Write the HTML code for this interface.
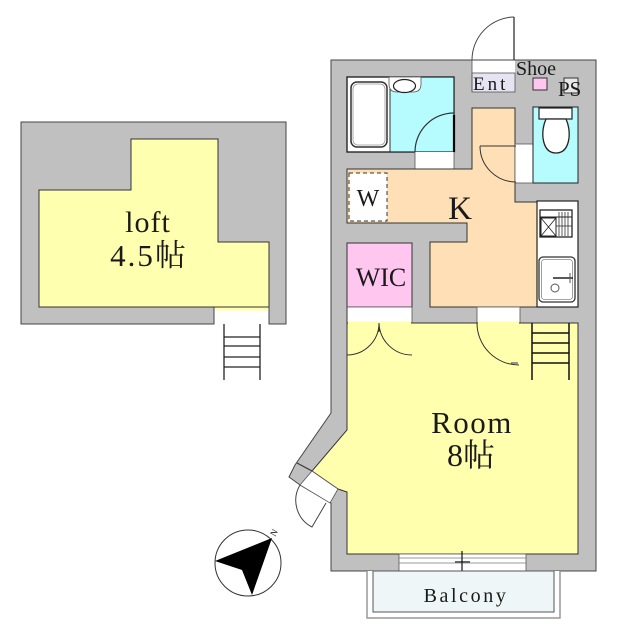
<!DOCTYPE html>
<html><head><meta charset="utf-8">
<style>
html,body{margin:0;padding:0;background:#fff;}
svg{display:block;}
text{font-family:"Liberation Serif","Noto Serif CJK SC","Noto Sans CJK JP",serif;fill:#1a1a1a;}
</style></head>
<body>
<svg width="618" height="640" viewBox="0 0 618 640" xmlns="http://www.w3.org/2000/svg">
<!-- LOFT -->
<rect x="21" y="122" width="265" height="202" fill="#c0c0c0" stroke="#444" stroke-width="1"/>
<rect x="214.5" y="307" width="54" height="19" fill="#fff"/>
<line x1="214" y1="307" x2="214" y2="324" stroke="#444"/>
<line x1="269" y1="307" x2="269" y2="324" stroke="#444"/>
<polygon points="131,139 218,139 218,242 269,242 269,307 39,307 39,190 131,190" fill="#ffffb0" stroke="#333" stroke-width="1"/>
<rect x="215" y="307.5" width="53" height="3" fill="#ffffb0"/>
<g stroke="#222" stroke-width="1.3">
<line x1="224" y1="324" x2="224" y2="380"/>
<line x1="260" y1="324" x2="260" y2="380"/>
<line x1="224" y1="337" x2="260" y2="337"/>
<line x1="224" y1="346" x2="260" y2="346"/>
<line x1="224" y1="357" x2="260" y2="357"/>
<line x1="224" y1="367" x2="260" y2="367"/>
</g>
<text x="148" y="232" font-size="30" text-anchor="middle" letter-spacing="1">loft</text>
<text x="149" y="266" font-size="31" text-anchor="middle" letter-spacing="2">4.5帖</text>

<!-- MAIN BUILDING -->
<polygon points="331,60 596,60 596,571 331,571 331,503 300,485 289,477 295,465 331,413" fill="#c0c0c0" stroke="#444" stroke-width="1"/>
<!-- entrance door -->
<rect x="472" y="60.5" width="43" height="13" fill="#fff"/>
<rect x="472" y="73" width="43" height="19" fill="#e6e4f2" stroke="#555" stroke-width="0.8"/>
<line x1="514" y1="17" x2="514" y2="60" stroke="#222" stroke-width="1.2"/>
<path d="M472 60 A43 43 0 0 1 514 17" fill="none" stroke="#444" stroke-width="1"/>
<line x1="472" y1="60" x2="472" y2="92" stroke="#555" stroke-width="0.8"/>
<text x="473" y="90" font-size="19" letter-spacing="3">Ent</text>
<text x="516" y="75" font-size="20">Shoe</text>
<rect x="533" y="78" width="14" height="12" fill="#ffc6ef" stroke="#333" stroke-width="1"/>
<rect x="564" y="78" width="14" height="15" fill="#e8e8e8" stroke="#333" stroke-width="1"/>
<text x="558" y="96" font-size="21">PS</text>

<!-- bathroom -->
<rect x="347" y="77" width="107" height="75" fill="#fff" stroke="#222" stroke-width="1.2"/>
<rect x="390" y="77" width="64" height="75" fill="#b6fcff"/>
<line x1="390" y1="77" x2="390" y2="152" stroke="#333" stroke-width="1"/>
<rect x="347" y="77" width="107" height="75" fill="none" stroke="#222" stroke-width="1.2"/>
<rect x="351" y="82" width="36" height="65" rx="6" fill="#fff" stroke="#333" stroke-width="1.5"/>
<rect x="353" y="84" width="32" height="61" rx="5" fill="none" stroke="#999" stroke-width="0.8"/>
<path d="M389 77 L389 84 Q389 92 397 92 L413 92 Q421 92 421 84 L421 77 Z" fill="#fff" stroke="#555" stroke-width="0.8"/>
<ellipse cx="404.5" cy="86" rx="11" ry="6.5" fill="#fff" stroke="#222" stroke-width="1.2"/>
<rect x="415" y="152" width="39" height="17" fill="#fff"/>
<line x1="415" y1="152" x2="415" y2="169" stroke="#555" stroke-width="0.8"/>
<line x1="454" y1="152" x2="454" y2="169" stroke="#555" stroke-width="0.8"/>
<path d="M415 152 A39 39 0 0 1 454 113" fill="none" stroke="#333" stroke-width="1.2"/>
<line x1="454" y1="115" x2="454" y2="152" stroke="#000" stroke-width="2.2"/>

<!-- kitchen -->
<polygon points="472,108 515,108 515,202 537,202 537,307 430,307 430,242 467,242 467,223 347,223 347,169 472,169" fill="#ffe0b6" stroke="#333" stroke-width="1"/>
<rect x="349" y="173" width="38" height="48" fill="#fff" stroke="#333" stroke-width="1" stroke-dasharray="4,3"/>
<text x="368" y="206" font-size="24" text-anchor="middle" fill="#444">W</text>
<text x="460" y="219" font-size="33" text-anchor="middle">K</text>
<!-- toilet door -->
<rect x="515" y="144" width="18" height="39" fill="#fff" stroke="#555" stroke-width="0.8"/>
<line x1="480" y1="146" x2="516" y2="146" stroke="#333" stroke-width="1"/>
<path d="M480 146 A36 36 0 0 0 516 182" fill="none" stroke="#333" stroke-width="1"/>
<!-- toilet -->
<rect x="533" y="107" width="45" height="76" fill="#b6fcff" stroke="#222" stroke-width="1"/>
<rect x="539" y="108" width="33" height="11" fill="#fff" stroke="#222" stroke-width="1.2"/>
<path d="M546 119 Q542 128 543 138 Q545 153 556 153 Q567 153 569 138 Q570 128 566 119 Z" fill="#fff" stroke="#222" stroke-width="1.3"/>
<!-- counter -->
<rect x="537" y="201" width="41" height="106" fill="#fff" stroke="#222" stroke-width="1.2"/>
<rect x="540" y="210" width="32" height="27" fill="#fff" stroke="#222" stroke-width="1.3"/>
<line x1="540" y1="217" x2="572" y2="217" stroke="#222" stroke-width="1"/>
<rect x="541" y="218" width="15" height="18" fill="none" stroke="#222" stroke-width="1"/>
<line x1="541" y1="218" x2="556" y2="236" stroke="#222" stroke-width="0.8"/>
<line x1="556" y1="218" x2="541" y2="236" stroke="#222" stroke-width="0.8"/>
<g stroke="#333" stroke-width="0.8">
<line x1="559" y1="212" x2="559" y2="236"/>
<line x1="562" y1="212" x2="562" y2="236"/>
<line x1="565" y1="212" x2="565" y2="236"/>
<line x1="568" y1="212" x2="568" y2="236"/>
<line x1="556" y1="226" x2="572" y2="226"/>
</g>
<rect x="539" y="257" width="36" height="45" rx="4" fill="#fff" stroke="#333" stroke-width="1.3"/>
<rect x="541.5" y="259.5" width="31" height="40" rx="3" fill="none" stroke="#888" stroke-width="0.8"/>
<circle cx="555" cy="288" r="4" fill="#fff" stroke="#555" stroke-width="1"/>
<line x1="553" y1="278" x2="573" y2="278" stroke="#222" stroke-width="1.5"/>
<line x1="570" y1="273" x2="570" y2="283" stroke="#555" stroke-width="1"/>

<!-- WIC -->
<rect x="347" y="243" width="65" height="64" fill="#ffc6ef" stroke="#333" stroke-width="1"/>
<text x="381" y="286" font-size="26" text-anchor="middle">WIC</text>
<rect x="347" y="307" width="65" height="16" fill="#fff" stroke="#555" stroke-width="0.8"/>
<!-- kitchen door opening -->
<rect x="477" y="307" width="43" height="16" fill="#fff" stroke="#555" stroke-width="0.8"/>

<!-- ROOM -->
<polygon points="347,323 578,323 578,554 347,554 347,492 338,489 312,471 347,430" fill="#ffffad" stroke="#333" stroke-width="1"/>
<rect x="348" y="321.5" width="63" height="3" fill="#ffffad"/>
<rect x="478" y="321.5" width="41" height="3" fill="#ffffad"/>
<line x1="347" y1="307" x2="347" y2="323" stroke="#333"/>
<!-- bay door opening -->
<polygon points="312,471 338,489 330,503 300,485" fill="#fff" stroke="#555" stroke-width="0.8"/>
<line x1="297" y1="463" x2="312" y2="471" stroke="#333" stroke-width="1"/>
<path d="M300 485 A30 30 0 0 0 312 527 L326 503" fill="none" stroke="#444" stroke-width="1"/>
<!-- WIC double door -->
<path d="M347 355 A32 32 0 0 0 379 323" fill="none" stroke="#333" stroke-width="1"/>
<path d="M412 355 A33 33 0 0 1 379 323" fill="none" stroke="#333" stroke-width="1"/>
<line x1="379" y1="323" x2="379" y2="332" stroke="#333" stroke-width="1"/>
<!-- kitchen door -->
<path d="M477 323 A42 42 0 0 0 519 365" fill="none" stroke="#333" stroke-width="1"/>
<line x1="511" y1="363" x2="518" y2="363" stroke="#333" stroke-width="1"/>
<!-- stairs -->
<g stroke="#111" stroke-width="1.5">
<line x1="532" y1="323" x2="532" y2="380"/>
<line x1="569" y1="323" x2="569" y2="380"/>
<line x1="532" y1="333" x2="569" y2="333"/>
<line x1="532" y1="343" x2="569" y2="343"/>
<line x1="532" y1="353" x2="569" y2="353"/>
<line x1="532" y1="363" x2="569" y2="363"/>
</g>
<text x="472" y="433" font-size="31" text-anchor="middle" letter-spacing="1.5">Room</text>
<text x="471" y="466" font-size="32" text-anchor="middle">8帖</text>
<!-- window -->
<rect x="399" y="554" width="127" height="17" fill="#fff" stroke="#555" stroke-width="0.8"/>
<line x1="399" y1="558" x2="526" y2="558" stroke="#777" stroke-width="0.8"/>
<line x1="399" y1="563" x2="526" y2="563" stroke="#777" stroke-width="0.8"/>
<line x1="455" y1="562" x2="470" y2="562" stroke="#666" stroke-width="2"/>
<line x1="462" y1="551" x2="462" y2="574" stroke="#111" stroke-width="1.2"/>

<!-- BALCONY -->
<path d="M367 571 L367 618 L560 618 L560 571" fill="#fff" stroke="#999" stroke-width="1.5"/>
<rect x="373" y="571" width="181" height="41" fill="#eef6f8" stroke="#555" stroke-width="1"/>
<text x="466" y="602" font-size="20" text-anchor="middle" letter-spacing="2.6">Balcony</text>

<!-- COMPASS -->
<circle cx="248" cy="563" r="33" fill="none" stroke="#333" stroke-width="1"/>
<polygon points="272,538 215,561 242,570 252,595" fill="#000"/>
<text x="0" y="0" font-size="9" transform="translate(275,537) rotate(-60)">N</text>
</svg>
</body></html>
